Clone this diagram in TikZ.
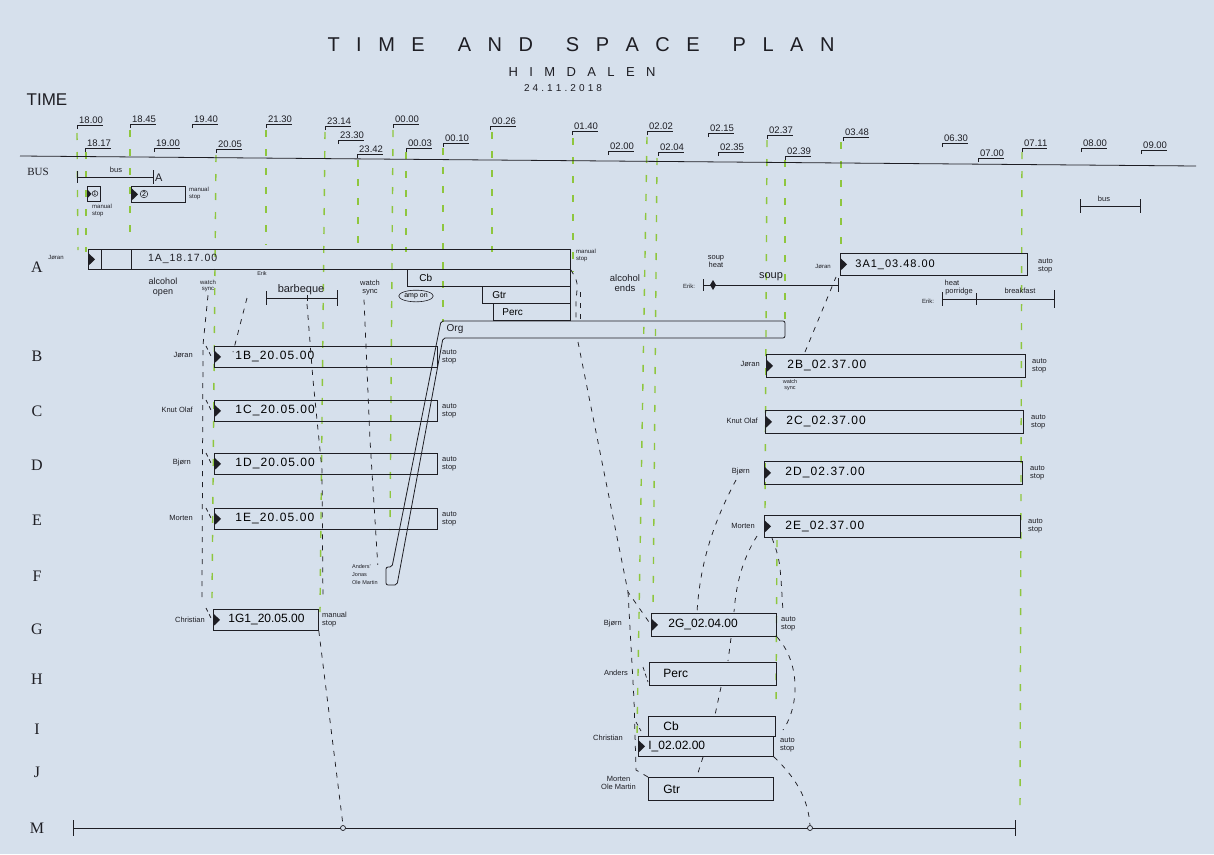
\documentclass[tikz,border=0pt]{standalone}
\usepackage{fontspec}
\setmainfont{Liberation Sans}
\newfontfamily\rowfont{Liberation Serif}
\newfontfamily\boxfont[LetterSpace=9]{Liberation Sans}
\usetikzlibrary{calc,shapes.geometric}
\definecolor{paper}{RGB}{214,224,236}
\definecolor{grn}{RGB}{142,198,62}
\definecolor{ink}{RGB}{30,30,36}
\tikzset{
  gdash/.style={grn,line width=1.4pt,dash pattern=on 7pt off 12pt},
  mdash/.style={ink,line width=0.75pt,dash pattern=on 5pt off 6pt},
  sdash/.style={ink,line width=0.7pt,dash pattern=on 4pt off 3pt},
  slotbox/.style={draw=ink,line width=0.8pt,anchor=north west,inner xsep=0pt,inner ysep=0pt,align=left},
  bigtxt/.style={font=\boxfont\fontsize{12}{12}\selectfont},
  tlab/.style={ink,font=\fontsize{9.5}{10}\selectfont,inner sep=0pt,anchor=south west},
  lab/.style={ink,inner sep=0pt,align=center,font=\fontsize{7.5}{8}\selectfont},
  tinylab/.style={ink,inner sep=0pt,align=center,font=\fontsize{6}{6.5}\selectfont},
  midlab/.style={ink,inner sep=0pt,align=center,font=\fontsize{9.5}{10.5}\selectfont},
  rowlab/.style={ink,inner sep=0pt,font=\rowfont\fontsize{16}{16}\selectfont},
  pen/.style={ink,line width=0.8pt},
  thinpen/.style={ink,line width=0.6pt},
}
\newcommand\tri[1]{\fill[ink] ([xshift=0.8pt,yshift=6pt]#1.west) -- ([xshift=7pt]#1.west) -- ([xshift=0.8pt,yshift=-6pt]#1.west) -- cycle;}
\newcommand\trismall[1]{\fill[ink] ([xshift=0.8pt,yshift=4pt]#1.west) -- ([xshift=4.5pt]#1.west) -- ([xshift=0.8pt,yshift=-4pt]#1.west) -- cycle;}
\begin{document}
\begin{tikzpicture}[x=1pt,y=-1pt]
\fill[paper] (0,0) rectangle (1214,854);
\useasboundingbox (0,0) rectangle (1214,854);

% ---------- titles
\node[ink,inner sep=0pt,font=\fontsize{20}{20}\selectfont] (title) at (581,45) {\makebox[507pt][s]{T\hfill I\hfill M\hfill E\hskip 0pt plus 2fill A\hfill N\hfill D\hskip 0pt plus 2fill S\hfill P\hfill A\hfill C\hfill E\hskip 0pt plus 2fill P\hfill L\hfill A\hfill N}};
\node[ink,inner sep=0pt,font=\fontsize{13}{13}\selectfont] (sub) at (582,72) {\makebox[147pt][s]{H\hfill I\hfill M\hfill D\hfill A\hfill L\hfill E\hfill N}};
\node[ink,inner sep=0pt,font=\fontsize{10}{10}\selectfont] (date) at (563,88) {\makebox[78pt][s]{2\hfill 4\hfill .\hfill 1\hfill 1\hfill .\hfill 2\hfill 0\hfill 1\hfill 8}};
\node[ink,inner sep=0pt,font=\fontsize{17}{17}\selectfont] (timeword) at (47,100) {TIME};

% ---------- green time lines
\foreach \xa/\ya/\xb/\yb in {77/133/78/250, 86/152/86/252, 130/130/130/240, 216/155/212/598,
  266/130/266/245, 325/132/320/612, 358/160/358/252, 393/130/390/530, 406/152/406/252,
  443/148/443/322, 492/132/492/252, 573/138/573/272, 647/137/637/735, 657/158/653/614,
  767/140/765/512, 785/160/785/320, 841/142/841/255, 1022/152/1020/810, 777/540/776/705}
  \draw[gdash] (\xa,\ya) -- (\xb,\yb);

% ---------- main time axis
\coordinate (ml) at (20,156);
\coordinate (mr) at (1196,166);
\draw[pen] (ml) -- (mr);

% ---------- time labels
\foreach \n/\x/\y/\t in {t1/77/125/18.00, t2/85/148/18.17, t3/130/124/18.45, t4/154/148/19.00,
  t5/192/124/19.40, t6/216/149/20.05, t7/266/124/21.30, t8/325/126/23.14, t9/338/140/23.30,
  t10/357/154/23.42, t11/393/124/00.00, t12/406/148/00.03, t13/443/143/00.10, t14/490/126/00.26,
  t15/572/131/01.40, t16/608/151/02.00, t17/647/131/02.02, t18/658/152/02.04, t19/708/133/02.15,
  t20/718/152/02.35, t21/767/135/02.37, t22/785/156/02.39, t23/843/137/03.48, t24/942/143/06.30,
  t25/978/158/07.00, t26/1022/148/07.11, t27/1081/148/08.00, t28/1141/150/09.00}
{
  \node[tlab] (\n) at (\x+2,\y-1.5) {\t};
  \draw[thinpen] (\x,\y+4) -- (\x,\y) -- (\n.east |- \x,\y);
}

% ---------- row labels
\node[rowlab,font=\rowfont\fontsize{11}{11}\selectfont] (rBUS) at (38,172) {BUS};
\node[rowlab] (rA) at (37,267) {A};
\node[rowlab] (rB) at (37,356) {B};
\node[rowlab] (rC) at (37,411) {C};
\node[rowlab] (rD) at (37,465) {D};
\node[rowlab] (rE) at (37,520) {E};
\node[rowlab] (rF) at (37,576) {F};
\node[rowlab] (rG) at (37,629) {G};
\node[rowlab] (rH) at (37,679) {H};
\node[rowlab] (rI) at (37,729) {I};
\node[rowlab] (rJ) at (37,772) {J};
\node[rowlab] (rM) at (37,828) {M};

% ---------- BUS row
\coordinate (bs) at (77,177);
\coordinate (be) at (153,177);
\draw[pen] (bs) -- (be);
\draw[pen] ([yshift=6pt]bs) -- ([yshift=-6pt]bs);
\draw[pen] ([yshift=7pt]be) -- ([yshift=-7pt]be);
\node[lab] (busw) at (116,170) {bus};
\node[ink,inner sep=0pt,anchor=west,font=\fontsize{11}{11}\selectfont] (busA) at (155,178) {A};
\node[slotbox,minimum width=13pt,minimum height=15pt] (bx1) at (87,186) {};
\trismall{bx1}
\node[circle,draw=ink,line width=0.5pt,inner sep=0.3pt,font=\fontsize{5.5}{6}\selectfont] (c1) at (95,193.5) {1};
\node[slotbox,minimum width=54pt,minimum height=16pt] (bx2) at (131,186) {};
\tri{bx2}
\node[circle,draw=ink,line width=0.5pt,inner sep=0.5pt,font=\fontsize{7}{7}\selectfont] (c2) at (144,194) {2};
\node[tinylab,anchor=north west,align=left] (ms1) at (92,204) {manual\\stop};
\node[tinylab,anchor=north west,align=left] (ms2) at (189,187) {manual\\stop};
\coordinate (rbs) at (1080,206);
\coordinate (rbe) at (1140,206);
\draw[pen] (rbs) -- (rbe);
\draw[pen] ([yshift=7pt]rbs) -- ([yshift=-7pt]rbs);
\draw[pen] ([yshift=7pt]rbe) -- ([yshift=-7pt]rbe);
\node[lab] (busw2) at (1104,199) {bus};

% ---------- A row
\node[tinylab] (jA) at (56,257) {Jøran};
\node[slotbox,minimum width=482pt,minimum height=20pt] (A1) at (88,249) {};
\draw[pen] ([xshift=13pt]A1.north west) -- ([xshift=13pt]A1.south west);
\draw[pen] ([xshift=43pt]A1.north west) -- ([xshift=43pt]A1.south west);
\tri{A1}
\node[ink,inner sep=0pt,anchor=west,font=\boxfont\fontsize{10.5}{11}\selectfont] (A1t) at (148,259) {1A\_18.17.00};
\node[slotbox,text width=163pt,minimum height=17pt,font=\fontsize{10}{10}\selectfont] (Cb1) at (407,269) {\hspace*{12pt}Cb};
\node[slotbox,text width=88pt,minimum height=17pt,font=\fontsize{10}{10}\selectfont] (Gtr1) at (482,286) {\hspace*{10pt}Gtr};
\node[slotbox,text width=77pt,minimum height=17pt,font=\fontsize{10}{10}\selectfont] (Perc1) at (493,303) {\hspace*{9pt}Perc};
\node[tinylab,anchor=north west,align=left] (msA) at (576,249) {manual\\stop};

% Org band
\draw[pen,rounded corners=2pt] (785,321) -- (441,321) -- (392,567) -- (386,567) -- (386,585) -- (397,585) -- (443,338) -- (785,338) -- cycle;
\node[ink,inner sep=0pt,font=\fontsize{10}{10}\selectfont] (orgt) at (455,329) {Org};

\node[midlab,font=\fontsize{9}{10}\selectfont] (alco) at (163,287) {alcohol\\open};
\node[tinylab] (ws1) at (208,286) {watch\\sync};
\node[tinylab,font=\fontsize{5.5}{6}\selectfont] (erik1) at (262,274) {Erik};
\coordinate (bq1) at (266,298);
\coordinate (bq2) at (337,298);
\coordinate (bqm) at (307,298);
\draw[pen] (bq1) -- (bq2);
\draw[pen] ([yshift=7pt]bq1) -- ([yshift=-7pt]bq1);
\draw[pen] ([yshift=8pt]bq2) -- ([yshift=-8pt]bq2);
\draw[pen] ([yshift=3pt]bqm) -- ([yshift=-3pt]bqm);
\node[midlab,font=\fontsize{11}{11}\selectfont] (bbq) at (301,290) {barbeque};
\node[lab] (ws2) at (370,288) {watch\\sync};
\node[ellipse,draw=ink,line width=0.6pt,inner xsep=0.5pt,inner ysep=1.5pt,font=\fontsize{7}{7}\selectfont] (amp) at (416,296) {amp on};
\node[midlab] (alce) at (625,283) {alcohol\\ends};
\node[lab] (souph) at (716,262) {soup\\heat};
\node[tinylab] (erik2) at (689,286) {Erik:};
\coordinate (sp1) at (703,285);
\coordinate (sp2) at (838,285);
\draw[pen] (sp1) -- (sp2);
\draw[pen] ([yshift=6pt]sp1) -- ([yshift=-6pt]sp1);
\draw[pen] ([yshift=7pt]sp2) -- ([yshift=-7pt]sp2);
\fill[ink] (713,280) -- (716,285) -- (713,290) -- (710,285) -- cycle;
\node[midlab,font=\fontsize{11}{11}\selectfont] (soupw) at (771,277) {soup};
\node[tinylab] (jA2) at (823,266) {Jøran};
\node[slotbox,text width=187pt,minimum height=22pt,font=\boxfont\fontsize{11}{11}\selectfont] (A3) at (840,253) {\hspace*{15pt}3A1\_03.48.00};
\tri{A3}
\node[lab,anchor=west,align=left] (asA) at (1038,266) {auto\\stop};
\node[tinylab] (erik3) at (928,301) {Erik:};
\coordinate (pr1) at (942,299);
\coordinate (pr2) at (1054,299);
\coordinate (prm) at (976,299);
\draw[pen] (pr1) -- (pr2);
\draw[pen] ([yshift=7pt]pr1) -- ([yshift=-7pt]pr1);
\draw[pen] ([yshift=6pt]prm) -- ([yshift=-6pt]prm);
\draw[pen] ([yshift=9pt]pr2) -- ([yshift=-9pt]pr2);
\node[lab] (heat) at (952,283) {heat};
\node[lab] (porr) at (959,292) {porridge};
\node[lab] (brk) at (1020,291) {breakfast};

% ---------- B - E left
\node[lab,anchor=east] (nB) at (193,355) {Jøran};
\node[slotbox,text width=223pt,minimum height=21pt,bigtxt] (B1) at (214,346) {\hspace*{21pt}1B\_20.05.00};
\tri{B1}
\node[lab,anchor=west,align=left] (asB1) at (442,357) {auto\\stop};
\node[lab,anchor=east] (nC) at (193,410) {Knut Olaf};
\node[slotbox,text width=223pt,minimum height=21pt,bigtxt] (C1) at (214,400) {\hspace*{21pt}1C\_20.05.00};
\tri{C1}
\node[lab,anchor=west,align=left] (asC1) at (442,411) {auto\\stop};
\node[lab,anchor=east] (nD) at (191,463) {Bjørn};
\node[slotbox,text width=223pt,minimum height=21pt,bigtxt] (D1) at (214,453) {\hspace*{21pt}1D\_20.05.00};
\tri{D1}
\node[lab,anchor=west,align=left] (asD1) at (442,464) {auto\\stop};
\node[lab,anchor=east] (nE) at (193,518) {Morten};
\node[slotbox,text width=223pt,minimum height=21pt,bigtxt] (E1) at (214,508) {\hspace*{21pt}1E\_20.05.00};
\tri{E1}
\node[lab,anchor=west,align=left] (asE1) at (442,519) {auto\\stop};

% ---------- F / G left
\node[tinylab,anchor=west,align=left,font=\fontsize{5.5}{8}\selectfont] (fl) at (352,575) {Anders'\\Jonas\\Ole Martin};
\node[lab,anchor=east] (nG) at (205,620) {Christian};
\node[slotbox,text width=105pt,minimum height=21pt,font=\fontsize{12}{12}\selectfont] (G1) at (213,609) {\hspace*{15pt}1G1\_20.05.00};
\tri{G1}
\node[lab,anchor=west,align=left] (msG) at (322,620) {manual\\stop};

% ---------- B - E right
\node[lab,anchor=east] (nB2) at (760,364) {Jøran};
\node[slotbox,text width=259pt,minimum height=23pt,bigtxt] (B2) at (766,354) {\hspace*{21pt}2B\_02.37.00};
\tri{B2}
\node[lab,anchor=west,align=left] (asB2) at (1032,366) {auto\\stop};
\node[tinylab,font=\fontsize{5.5}{6}\selectfont] (ws3) at (790,385) {watch\\sync};
\node[lab,anchor=east] (nC2) at (758,421) {Knut Olaf};
\node[slotbox,text width=258pt,minimum height=23pt,bigtxt] (C2) at (765,410) {\hspace*{21pt}2C\_02.37.00};
\tri{C2}
\node[lab,anchor=west,align=left] (asC2) at (1031,422) {auto\\stop};
\node[lab,anchor=east] (nD2) at (750,472) {Bjørn};
\node[slotbox,text width=258pt,minimum height=23pt,bigtxt] (D2) at (764,461) {\hspace*{21pt}2D\_02.37.00};
\tri{D2}
\node[lab,anchor=west,align=left] (asD2) at (1030,473) {auto\\stop};
\node[lab,anchor=east] (nE2) at (755,526) {Morten};
\node[slotbox,text width=256pt,minimum height=22pt,bigtxt] (E2) at (764,515) {\hspace*{21pt}2E\_02.37.00};
\tri{E2}
\node[lab,anchor=west,align=left] (asE2) at (1028,526) {auto\\stop};

% ---------- G - J right
\node[lab,anchor=east] (nG2) at (622,624) {Bjørn};
\node[slotbox,text width=125pt,minimum height=23pt,font=\fontsize{12}{12}\selectfont] (G2) at (651,613) {\hspace*{17pt}2G\_02.04.00};
\tri{G2}
\node[lab,anchor=west,align=left] (asG2) at (781,624) {auto\\stop};
\node[lab,anchor=east] (nH) at (628,673) {Anders};
\node[slotbox,text width=127pt,minimum height=23pt,font=\fontsize{12}{12}\selectfont] (H2) at (649,662) {\hspace*{14pt}Perc};
\node[slotbox,text width=127pt,minimum height=20pt,font=\fontsize{12}{12}\selectfont] (I2cb) at (648,716) {\hspace*{15pt}Cb};
\node[slotbox,text width=135pt,minimum height=20pt,font=\fontsize{12}{12}\selectfont] (I2) at (638,736) {\hspace*{10pt}I\_02.02.00};
\tri{I2}
\node[lab,anchor=east] (nI) at (623,738) {Christian};
\node[lab,anchor=west,align=left] (asI2) at (780,745) {auto\\stop};
\node[lab,anchor=east] (nJ) at (636,783) {Morten\\Ole Martin};
\node[slotbox,text width=125pt,minimum height=23pt,font=\fontsize{12}{12}\selectfont] (J2) at (648,777) {\hspace*{15pt}Gtr};

% ---------- M row
\coordinate (ms) at (73,828);
\coordinate (me) at (1015,828);
\draw[pen] (ms) -- (me);
\draw[pen] ([yshift=8pt]ms) -- ([yshift=-8pt]ms);
\draw[pen] ([yshift=8pt]me) -- ([yshift=-8pt]me);
\node[circle,draw=ink,fill=paper,line width=0.7pt,inner sep=0pt,minimum size=5pt] (m1) at (343,828) {};
\node[circle,draw=ink,fill=paper,line width=0.7pt,inner sep=0pt,minimum size=5pt] (m2) at (810,828) {};

% ---------- movement (dashed) lines
\draw[mdash] (ws1.south) ++(0,3) -- (203,345) -- (202,598);
\foreach \y in {346,400,453,508,608}
  \draw[sdash] (206,\y) -- (211,\y+10);
\draw[mdash] (247,298) -- (nB.north east -| 233,344);
\draw[mdash] ([yshift=-6pt]bqm) -- (313,380) -- (322,470) -- (323,600);
\draw[mdash] (G1.south east) -- (m1.north);
\draw[mdash] (ws2.south) ++(-6,4) -- (370,440) -- (fl.north east);
\draw[mdash] (A1.south east) .. controls (578,282) .. (576,300) -- (576,322);
\draw[mdash] (580,292) -- (580,322);
\draw[mdash] (578,342) -- (628,592) -- (G2.west);
\draw[mdash] (628,592) -- (634,700) -- (636,770) -- (J2.north west);
\draw[sdash] (643,667) -- (648,682);
\draw[sdash] (636,722) -- (641,731);
\draw[mdash] (805,352) -- (836,277);
\draw[mdash] (736,480) .. controls (712,525) and (700,565) .. (697,612);
\draw[mdash] (757,536) .. controls (742,560) and (736,585) .. (734,612);
\draw[mdash] (731,638) -- (728,661);
\draw[mdash] (721,687) -- (715,715);
\draw[mdash] (703,757) -- (697,776);
\draw[mdash] (772,538) .. controls (780,560) .. (783,612);
\draw[mdash] (G2.south east) .. controls (800,662) and (800,705) .. (783,730);
\draw[mdash] (I2.south east) .. controls (798,780) and (808,800) .. (m2.north);
\end{tikzpicture}
\end{document}
